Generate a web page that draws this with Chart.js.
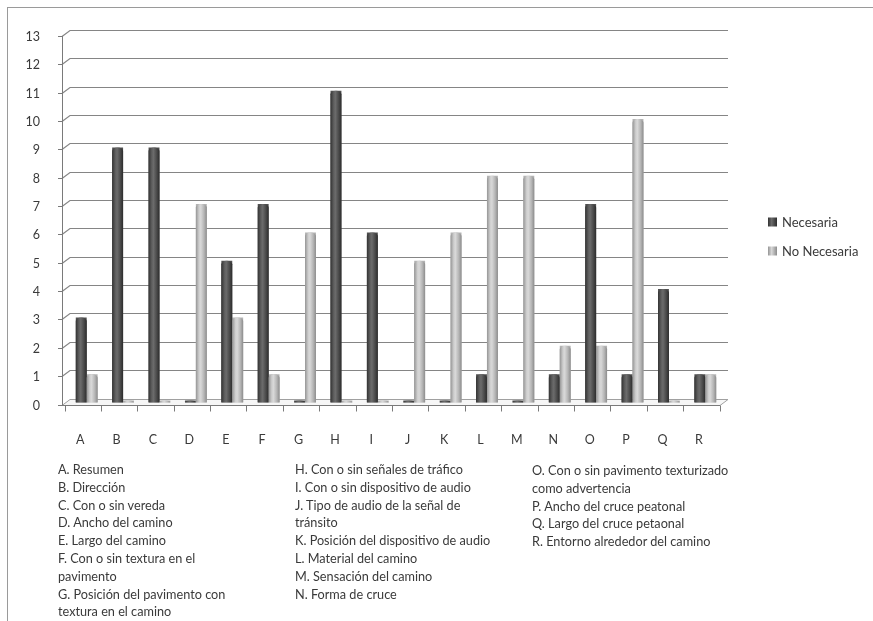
<!DOCTYPE html>
<html lang="es">
<head>
<meta charset="utf-8">
<title>Necesaria / No Necesaria</title>
<script src="https://cdn.jsdelivr.net/npm/chart.js@4.4.1/dist/chart.umd.min.js"></script>
<style>
  html, body { margin: 0; padding: 0; background: #fff; }
  #wrap { position: relative; width: 873px; height: 621px; overflow: hidden; }
  #frame { position: absolute; left: 7px; top: 7px; right: -2px; bottom: -2px;
           border-top: 1px solid #9a9a9a; border-left: 1px solid #9a9a9a; }
  canvas { position: absolute; left: 0; top: 0; }
  .notes { position: absolute; font-family: Lato, "Open Sans", sans-serif; font-size: 12.7px;
           line-height: 17.8px; color: #3a3a3a; white-space: nowrap; }
</style>
</head>
<body>
<div id="wrap">
  <div id="frame"></div>
  <canvas id="chart" width="873" height="621"></canvas>
  <div class="notes" id="col1" style="left:58px; top:461px;"></div>
  <div class="notes" id="col2" style="left:295px; top:461px;"></div>
  <div class="notes" id="col3" style="left:532px; top:462px;"></div>
</div>
<script>
// Aspect categories and the two answer counts
const categories = ['A','B','C','D','E','F','G','H','I','J','K','L','M','N','O','P','Q','R'];
const necesaria   = [3, 9, 9, 0, 5, 7, 0, 11, 6, 0, 0, 1, 0, 1, 7, 1, 4, 1];
const noNecesaria = [1, 0, 0, 7, 3, 1, 6, 0, 0, 5, 6, 8, 8, 2, 2, 10, 0, 1];
const seriesNames = ['Necesaria', 'No Necesaria'];
const yTicks = [0,1,2,3,4,5,6,7,8,9,10,11,12,13];

// Key to the letters, laid out in three columns
const notesCol1 = ['A. Resumen', 'B. Dirección', 'C. Con  o sin vereda', 'D. Ancho del camino',
  'E. Largo del camino', 'F. Con o sin textura en el', 'pavimento',
  'G. Posición del pavimento con', 'textura en el camino'];
const notesCol2 = ['H. Con o sin señales de tráfico', 'I. Con  o sin dispositivo de audio',
  'J. Tipo de audio de la señal de', 'tránsito', 'K. Posición del dispositivo de audio',
  'L. Material del camino', 'M. Sensación del camino', 'N. Forma de cruce'];
const notesCol3 = ['O. Con o sin pavimento texturizado', 'como advertencia',
  'P. Ancho  del cruce  peatonal', 'Q. Largo del cruce  petaonal',
  'R. Entorno alrededor  del camino'];

[['col1', notesCol1], ['col2', notesCol2], ['col3', notesCol3]].forEach(([id, lines]) => {
  const el = document.getElementById(id);
  lines.forEach(t => { const d = document.createElement('div'); d.textContent = t; el.appendChild(d); });
});

const FONT = 'Lato, "Open Sans", sans-serif';
const baseColors = ['#515151', '#b4b4b4'];
const shades = [
  ['#333333', '#5f5f5f', '#6b6b6b', '#4a4a4a', '#2c2c2c'],
  ['#959595', '#cfcfcf', '#d8d8d8', '#b5b5b5', '#8c8c8c']
];

// Back wall, floor and the slanted value axis of the pseudo-3D frame
const framePlugin = {
  id: 'frame3d',
  beforeDatasetsDraw(chart) {
    const { ctx, scales: { x, y } } = chart;
    const backL = x.left + 1.5, backR = x.right + 4.5;
    const frontL = x.left - 6.5, frontR = x.right - 3.5;
    const dyB = -4, dyF = 2;
    ctx.save();
    ctx.lineWidth = 1.2;
    // gridlines on the back wall with their side-wall slants
    ctx.strokeStyle = '#858585';
    yTicks.forEach(v => {
      if (v === 0) return;
      const p = Math.round(y.getPixelForValue(v)) + 0.5;
      ctx.beginPath();
      ctx.moveTo(frontL, p + dyF);
      ctx.lineTo(backL, p + dyB);
      ctx.lineTo(backR, p + dyB);
      ctx.stroke();
    });
    ctx.lineWidth = 1;
    // floor
    const p0 = Math.round(y.getPixelForValue(0)) + 0.5;
    ctx.fillStyle = '#f6f6f6';
    ctx.beginPath();
    ctx.moveTo(frontL, p0 + dyF);
    ctx.lineTo(frontR, p0 + dyF);
    ctx.lineTo(backR, p0 + dyB);
    ctx.lineTo(backL, p0 + dyB);
    ctx.closePath();
    ctx.fill();
    ctx.strokeStyle = '#a0a0a0';
    ctx.stroke();
    ctx.strokeStyle = '#7a7a7a';
    ctx.beginPath();
    ctx.moveTo(frontL, p0 + dyF);
    ctx.lineTo(frontR, p0 + dyF);
    ctx.stroke();
    // value axis line and its tick marks
    ctx.strokeStyle = '#7a7a7a';
    ctx.beginPath();
    ctx.moveTo(frontL + 0.5, Math.round(y.getPixelForValue(13)) + dyF);
    ctx.lineTo(frontL + 0.5, p0 + dyF);
    yTicks.forEach(v => {
      const p = Math.round(y.getPixelForValue(v)) + 0.5 + dyF;
      ctx.moveTo(frontL - 4, p);
      ctx.lineTo(frontL + 0.5, p);
    });
    // category separators under the floor
    const step = x.width / categories.length;
    for (let i = 0; i <= categories.length; i++) {
      const px = Math.round(x.left + i * step - 4) + 0.5;
      ctx.moveTo(px, p0 + dyF);
      ctx.lineTo(px, p0 + dyF + 6);
    }
    ctx.stroke();
    ctx.restore();
  },
  afterDatasetsDraw(chart) {
    // cylinder shading over the bars drawn by the bar controller
    const { ctx } = chart;
    ctx.save();
    chart.data.datasets.forEach((ds, di) => {
      const meta = chart.getDatasetMeta(di);
      meta.data.forEach(bar => {
        const { x, y, base, width } = bar.getProps(['x', 'y', 'base', 'width'], true);
        const left = x - width / 2, h = base - y;
        if (h <= 0) return;
        const g = ctx.createLinearGradient(left, 0, left + width, 0);
        const s = shades[di];
        g.addColorStop(0, s[0]);
        g.addColorStop(0.3, s[1]);
        g.addColorStop(0.45, s[2]);
        g.addColorStop(0.75, s[3]);
        g.addColorStop(1, s[4]);
        const ry = Math.min(3.5, h);
        ctx.fillStyle = g;
        ctx.beginPath();
        ctx.moveTo(left, base);
        ctx.lineTo(left, y + ry);
        ctx.ellipse(x, y + ry, width / 2, ry, 0, Math.PI, 0, false);
        ctx.lineTo(left + width, base);
        ctx.closePath();
        ctx.fill();
      });
    });
    ctx.restore();
  },
  afterDraw(chart) {
    // series key on the right
    const { ctx } = chart;
    ctx.save();
    ctx.font = '13px ' + FONT;
    ctx.textBaseline = 'middle';
    chart.data.datasets.forEach((ds, i) => {
      const cy = 222 + i * 29;
      const g = ctx.createLinearGradient(768, 0, 777, 0);
      g.addColorStop(0, shades[i][0]);
      g.addColorStop(0.4, shades[i][2]);
      g.addColorStop(1, shades[i][4]);
      ctx.fillStyle = g;
      ctx.fillRect(768, cy - 4.5, 9, 9);
      ctx.fillStyle = '#3a3a3a';
      ctx.fillText(ds.label, 782, cy + 0.5);
    });
    ctx.restore();
  }
};

new Chart(document.getElementById('chart'), {
  type: 'bar',
  data: {
    labels: categories,
    datasets: [
      { label: seriesNames[0], data: necesaria, backgroundColor: baseColors[0] },
      { label: seriesNames[1], data: noNecesaria, backgroundColor: baseColors[1] }
    ]
  },
  options: {
    responsive: false,
    animation: false,
    events: [],
    layout: { padding: { left: 0, right: 149.5, top: 34, bottom: 0 } },
    datasets: {
      bar: { categoryPercentage: 0.6, barPercentage: 1, minBarLength: 2, borderWidth: 0 }
    },
    plugins: { legend: { display: false }, tooltip: { enabled: false } },
    scales: {
      x: {
        grid: { display: false },
        border: { display: false },
        ticks: { color: '#3a3a3a', font: { family: FONT, size: 12.5 }, padding: 22, labelOffset: -6.5, maxRotation: 0 },
        afterFit(scale) { scale.height = 218.5; }
      },
      y: {
        min: 0, max: 13,
        grid: { display: false },
        border: { display: false },
        ticks: { stepSize: 1, color: '#3a3a3a', font: { family: FONT, size: 12.5 }, padding: 20.5, labelOffset: 3 },
        afterFit(scale) { scale.width = 68.5; }
      }
    }
  },
  plugins: [framePlugin]
});
</script>
</body>
</html>
